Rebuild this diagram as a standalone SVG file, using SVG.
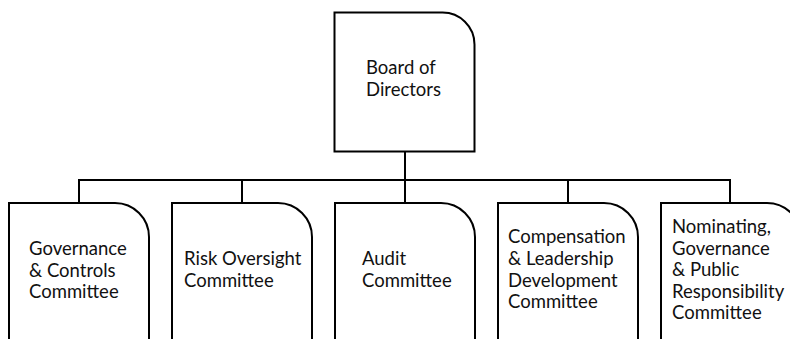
<svg xmlns="http://www.w3.org/2000/svg" width="790" height="339" viewBox="0 0 790 339">
<style>
.box{fill:#fff;stroke:#000;stroke-width:2}
.conn{fill:none;stroke:#000;stroke-width:2}
text{font-family:"Lato","Liberation Sans",sans-serif;font-size:18.5px;fill:#111}
</style>
<rect width="790" height="339" fill="#fff"/>
<g id="connectors">
<path class="conn" d="M405 152 V180 M78 180 H731 M79 180 V203 M242 180 V203 M405 180 V203 M568 180 V203 M730 180 V203"/>
</g>
<g id="board">
<path class="box" d="M334.5 12.5 H442 A32 32 0 0 1 474.5 44.5 V151.5 H334.5 Z"/>
<text x="366" y="74">Board of</text>
<text x="366" y="96">Directors</text>
</g>
<g id="governance-controls">
<path class="box" d="M9 203 H115 A34 34 0 0 1 149 237 V345 H9 Z"/>
<text x="29" y="255">Governance</text>
<text x="29" y="277">&amp; Controls</text>
<text x="29" y="298">Committee</text>
</g>
<g id="risk-oversight">
<path class="box" d="M172 203 H278 A34 34 0 0 1 312 237 V345 H172 Z"/>
<text x="184" y="265">Risk Oversight</text>
<text x="184" y="287">Committee</text>
</g>
<g id="audit">
<path class="box" d="M335 203 H441 A34 34 0 0 1 475 237 V345 H335 Z"/>
<text x="362" y="265">Audit</text>
<text x="362" y="287">Committee</text>
</g>
<g id="compensation">
<path class="box" d="M498 203 H604 A34 34 0 0 1 638 237 V345 H498 Z"/>
<text x="508" y="243">Compensation</text>
<text x="508" y="265">&amp; Leadership</text>
<text x="508" y="287">Development</text>
<text x="508" y="308">Committee</text>
</g>
<g id="nominating">
<path class="box" d="M661 203 H767 A34 34 0 0 1 801 237 V345 H661 Z"/>
<text x="672" y="233">Nominating,</text>
<text x="672" y="255">Governance</text>
<text x="672" y="276">&amp; Public</text>
<text x="672" y="298">Responsibility</text>
<text x="672" y="319">Committee</text>
</g>
</svg>
